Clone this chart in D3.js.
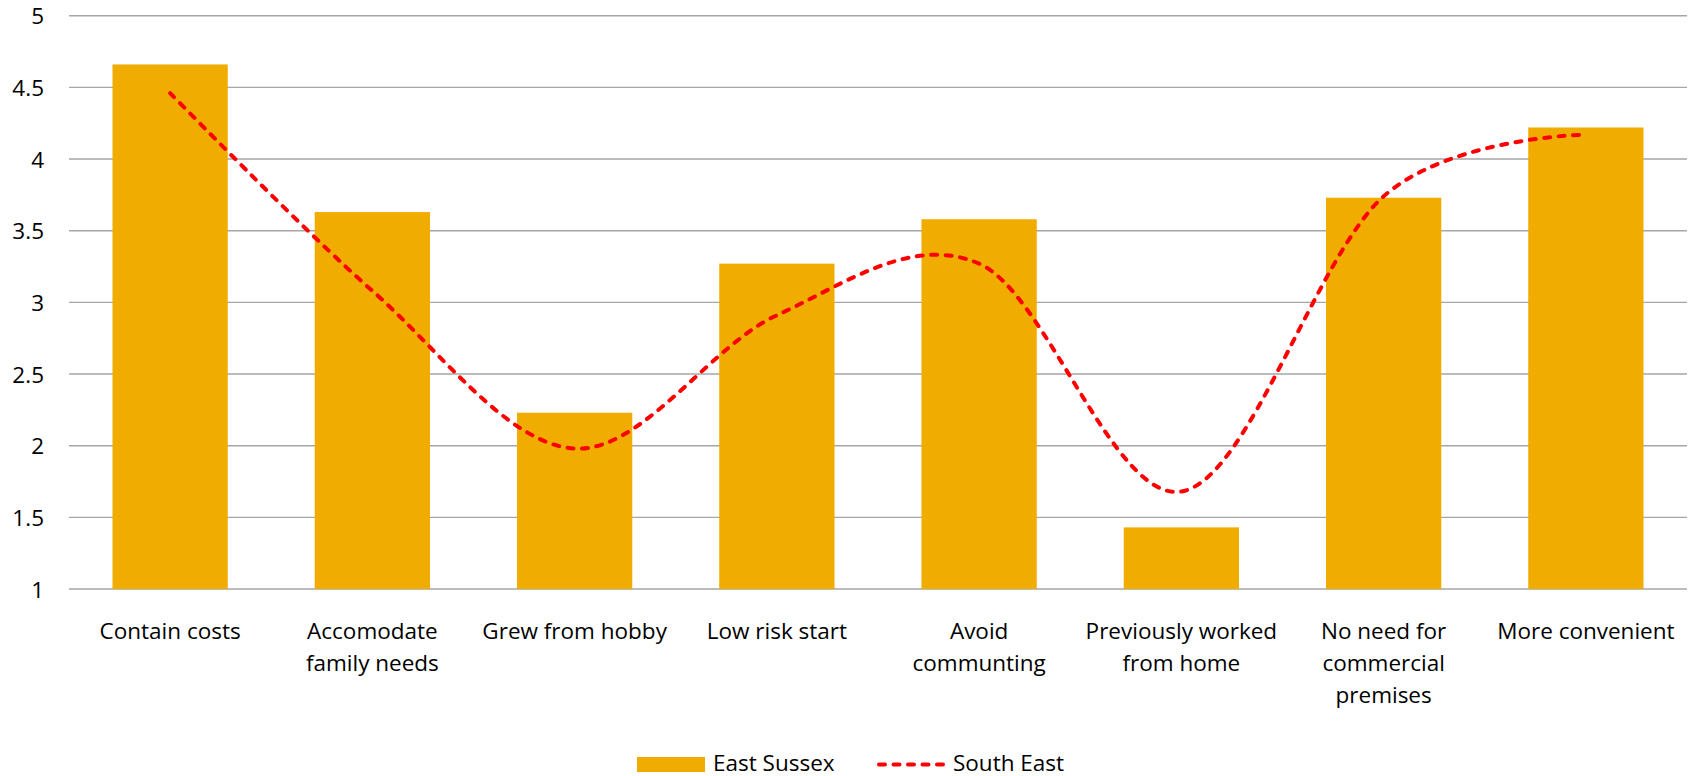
<!DOCTYPE html>
<html>
<head>
<meta charset="utf-8">
<script src="https://cdn.jsdelivr.net/npm/d3@7/dist/d3.min.js"></script>
<style>
  html, body { margin: 0; padding: 0; background: #ffffff; }
  svg { display: block; }
  text { font-family: "Open Sans", "Noto Sans", sans-serif; fill: #000; }
</style>
</head>
<body>
<svg id="chart" width="1694" height="776"></svg>
<script>
// Reasons for working from home: average score by area
const categories = [
  "Contain costs", "Accomodate family needs", "Grew from hobby", "Low risk start",
  "Avoid communting", "Previously worked from home", "No need for commercial premises", "More convenient"
];
// Label lines as they wrap under each category
const categoryLines = [
  ["Contain costs"], ["Accomodate", "family needs"], ["Grew from hobby"], ["Low risk start"],
  ["Avoid", "communting"], ["Previously worked", "from home"], ["No need for", "commercial", "premises"], ["More convenient"]
];
const eastSussex = [4.66, 3.63, 2.23, 3.27, 3.58, 1.43, 3.73, 4.22];
const southEast  = [4.46, 3.08, 1.98, 2.91, 3.27, 1.68, 3.74, 4.17];
const yTicks = [1, 1.5, 2, 2.5, 3, 3.5, 4, 4.5, 5];
const seriesNames = ["East Sussex", "South East"];

const svg = d3.select("#chart");
const plotLeft = 69, plotRight = 1687, plotTop = 15.7, plotBottom = 589;
const fontSize = 22.5;

const x = d3.scaleBand().domain(categories).range([plotLeft, plotRight]).paddingInner(0.43).paddingOuter(0.215);
const xc = d3.scaleBand().domain(categories).range([plotLeft, plotRight]);
const y = d3.scaleLinear().domain([1, 5]).range([plotBottom, plotTop]);

// Horizontal gridlines
svg.append("g").selectAll("line").data(yTicks).join("line")
  .attr("x1", plotLeft).attr("x2", plotRight)
  .attr("y1", d => y(d)).attr("y2", d => y(d))
  .attr("stroke", "#a6a6a6").attr("stroke-width", 1.4);

// Y axis tick labels
svg.append("g").selectAll("text").data(yTicks).join("text")
  .attr("x", 44).attr("y", d => y(d))
  .attr("text-anchor", "end").attr("dominant-baseline", "central")
  .attr("font-size", fontSize)
  .text(d => d3.format("")(d));

// Bars
svg.append("g").selectAll("rect").data(categories).join("rect")
  .attr("x", d => x(d)).attr("width", x.bandwidth())
  .attr("y", (d, i) => y(eastSussex[i]))
  .attr("height", (d, i) => y(1) - y(eastSussex[i]))
  .attr("fill", "#f0ad00");

// Smoothed dashed line
const line = d3.line()
  .x((d, i) => xc(categories[i]) + xc.bandwidth() / 2)
  .y(d => y(d))
  .curve(d3.curveCardinal.tension(0));
svg.append("path").datum(southEast)
  .attr("d", line)
  .attr("fill", "none").attr("stroke", "#ff0000")
  .attr("stroke-width", 4).attr("stroke-dasharray", "6,8.5")
  .attr("stroke-linecap", "round");

// Category labels
const lab = svg.append("g").selectAll("text").data(categories).join("text")
  .attr("text-anchor", "middle").attr("font-size", fontSize)
  .attr("transform", d => `translate(${xc(d) + xc.bandwidth() / 2},0)`);
lab.each(function(d, i) {
  d3.select(this).selectAll("tspan").data(categoryLines[i]).join("tspan")
    .attr("x", 0).attr("y", (t, j) => 639 + j * 32).text(t => t);
});

// Legend
const lg = svg.append("g");
lg.append("rect").attr("x", 637).attr("y", 757).attr("width", 68).attr("height", 15).attr("fill", "#f0ad00");
lg.append("text").attr("x", 713).attr("y", 762).attr("dominant-baseline", "central").attr("font-size", fontSize).text(seriesNames[0]);
lg.append("line").attr("x1", 879).attr("x2", 945).attr("y1", 764.5).attr("y2", 764.5)
  .attr("stroke", "#ff0000").attr("stroke-width", 4).attr("stroke-dasharray", "6,8.5").attr("stroke-linecap", "round");
lg.append("text").attr("x", 953).attr("y", 762).attr("dominant-baseline", "central").attr("font-size", fontSize).text(seriesNames[1]);
</script>
</body>
</html>
